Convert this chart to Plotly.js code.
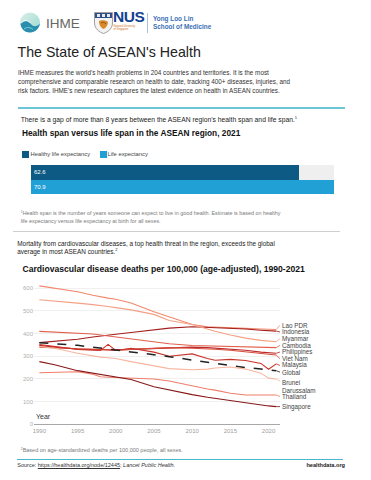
<!DOCTYPE html>
<html>
<head>
<meta charset="utf-8">
<script src="https://cdn.plot.ly/plotly-3.0.1.min.js"></script>
<style>
  html, body { margin:0; padding:0; background:#fff; }
  body { width:371px; height:480px; position:relative; overflow:hidden; font-family:"Liberation Sans", Arial, sans-serif; color:#333; }
  .abs { position:absolute; white-space:nowrap; }
  .rule { position:absolute; }
</style>
</head>
<body>
<!-- Logos -->
<svg class="abs" style="left:18px;top:10px" width="26" height="26" viewBox="0 0 26 26">
  <defs>
    <linearGradient id="g1" x1="0" y1="0" x2="1" y2="1">
      <stop offset="0" stop-color="#d6f0e8"/>
      <stop offset="1" stop-color="#9fd8d0"/>
    </linearGradient>
  </defs>
  <circle cx="12" cy="12.5" r="10" fill="url(#g1)"/>
  <path d="M2.5 14 C6 10, 10 10, 13 14 C15.5 17, 19 17, 22 13.5 C21 19, 17 22.5, 12 22.5 C7 22.5, 3.2 19, 2.5 14 Z" fill="#2a8fae"/>
  <path d="M3 13 C6.5 9.5, 10 10, 12.5 13.2" stroke="#fff" stroke-width="1" fill="none"/>
  <path d="M6 19 C9 16.5, 13 17.5, 15 19.5" stroke="#7ccfd0" stroke-width="1" fill="none"/>
</svg>
<div class="abs" style="left:46px;top:14.5px;font-size:13.5px;line-height:17px;color:#666;">IHME</div>

<svg class="abs" style="left:94px;top:12px" width="19" height="22" viewBox="0 0 19 22">
  <path d="M0.5 0.5 H18.5 V11 C18.5 17, 13 20.5, 9.5 21.5 C6 20.5, 0.5 17, 0.5 11 Z" fill="#f3f3f3" stroke="#8a8a8a" stroke-width="0.8"/>
  <rect x="1" y="1" width="17" height="5" fill="#2c4f8a"/>
  <rect x="3" y="2" width="3" height="3" fill="#e8e8e8"/>
  <rect x="8" y="2" width="3" height="3" fill="#e8e8e8"/>
  <rect x="13" y="2" width="3" height="3" fill="#e8e8e8"/>
  <path d="M5 9 C7 8, 12 8, 14 10 C14 13, 12 16, 9.5 17 C7 16, 5 13, 5 9 Z" fill="#d88a2a"/>
  <path d="M7 11 C8.5 10, 10.5 10, 12 12" stroke="#7a4a12" stroke-width="0.8" fill="none"/>
</svg>
<div class="abs" style="left:113px;top:10px;font-size:15.5px;line-height:14.5px;height:14.5px;font-weight:bold;color:#12418f;letter-spacing:-0.4px;">NUS</div>
<div class="abs" style="left:113.5px;top:26px;font-size:2.6px;line-height:2.9px;color:#d06a1a;">National University<br>of Singapore</div>
<div class="rule" style="left:147px;top:13px;width:0.8px;height:20px;background:#a9c1e0;"></div>
<div class="abs" style="left:153px;top:14.8px;font-size:6.4px;line-height:8.4px;font-weight:bold;color:#3a6fb5;">Yong Loo Lin<br>School of Medicine</div>

<!-- Title & intro -->
<div class="abs" style="left:17.5px;top:44px;font-size:14.2px;line-height:17px;color:#222;">The State of ASEAN's Health</div>
<div class="abs" style="left:18px;top:67.7px;font-size:6.35px;line-height:9.2px;color:#333;">IHME measures the world's health problems in 204 countries and territories. It is the most<br>comprehensive and comparable research on health to date, tracking 400+ diseases, injuries, and<br>risk factors. IHME's new research captures the latest evidence on health in ASEAN countries.</div>
<div class="rule" style="left:18px;top:107.4px;width:327px;height:1.3px;background:#6cc6d6;"></div>

<div class="abs" style="left:20.7px;top:114.5px;font-size:6.75px;line-height:9px;color:#222;">There is a gap of more than 8 years between the ASEAN region's health span and life span.<sup style="font-size:4px;vertical-align:3px;line-height:0">1</sup></div>
<div class="abs" style="left:22px;top:128.3px;font-size:8.3px;line-height:10px;font-weight:bold;color:#111;">Health span versus life span in the ASEAN region, 2021</div>

<!-- Bar legend -->
<div class="rule" style="left:21.5px;top:150.5px;width:7.5px;height:7px;background:#0d5a84;"></div>
<div class="abs" style="left:30.5px;top:150px;font-size:5.8px;line-height:8px;color:#444;">Healthy life expectancy</div>
<div class="rule" style="left:100px;top:150.5px;width:7px;height:7px;background:#21a0d6;"></div>
<div class="abs" style="left:107.5px;top:150px;font-size:5.8px;line-height:8px;color:#444;">Life expectancy</div>

<div id="bars" class="abs" style="left:0;top:165px;width:371px;height:28.5px;"></div>

<div class="abs" style="left:20.7px;top:208.7px;font-size:5.4px;line-height:8px;color:#7a7a7a;"><sup style="font-size:3.5px;vertical-align:2.5px;line-height:0">1</sup>Health span is the number of years someone can expect to live in good health. Estimate is based on healthy<br>life expectancy versus life expectancy at birth for all sexes.</div>
<div class="rule" style="left:12.7px;top:231.3px;width:327px;height:0.9px;background:#cfcfcf;"></div>

<div class="abs" style="left:17.3px;top:240px;font-size:6.4px;line-height:7.8px;color:#222;">Mortality from cardiovascular diseases, a top health threat in the region, exceeds the global<br>average in most ASEAN countries.<sup style="font-size:4px;vertical-align:3px;line-height:0">2</sup></div>
<div class="abs" style="left:22.5px;top:264.3px;font-size:8.6px;line-height:10px;font-weight:bold;color:#111;">Cardiovascular disease deaths per 100,000 (age-adjusted), 1990-2021</div>

<div id="lines" class="abs" style="left:0;top:275px;width:371px;height:165px;"></div>

<div class="abs" style="left:20.7px;top:447.2px;font-size:5.5px;line-height:7px;color:#7a7a7a;"><sup style="font-size:3.5px;vertical-align:2.5px;line-height:0">2</sup>Based on age-standardized deaths per 100,000 people, all sexes.</div>
<div class="rule" style="left:17px;top:458.5px;width:326px;height:1.2px;background:#45b8d0;"></div>
<div class="abs" style="left:17.3px;top:461.8px;font-size:5.5px;line-height:7px;color:#333;">Source: <span style="text-decoration:underline">https://healthdata.org/node/12445</span>; <i>Lancet Public Health</i>.</div>
<div class="abs" style="right:26px;top:461.8px;font-size:5.6px;line-height:7px;font-weight:bold;color:#222;">healthdata.org</div>

<script>
// ---------- Data ----------
const barCategories = ['Healthy life expectancy', 'Life expectancy'];
const barValues = [62.6, 70.9];

const years = [1990, 1992, 1995, 1997, 1998, 1999, 2000, 2002, 2005, 2007, 2010, 2012, 2013, 2015, 2017, 2019, 2020, 2021];
const laoPDR      = [611, 600, 585, 570, 562, 557, 552, 535, 497, 475, 440, 430, 428, 425, 423, 420, 419, 418];
const indonesia   = [360, 365, 375, 385, 390, 393, 397, 405, 416, 424, 430, 428, 427, 423, 420, 415, 413, 411];
const myanmar     = [550, 545, 535, 528, 525, 520, 515, 505, 485, 458, 440, 418, 410, 394, 380, 370, 366, 364];
const cambodia    = [410, 407, 404, 398, 394, 390, 386, 378, 364, 355, 347, 345, 344, 342, 341, 340, 339, 338];
const philippines = [348, 340, 332, 330, 329, 328, 327, 330, 333, 336, 340, 338, 336, 332, 326, 318, 315, 313];
const vietNam     = [340, 336, 333, 331, 330, 329, 328, 330, 335, 338, 335, 333, 331, 326, 318, 310, 307, 305];
const malaysia    = [352, 342, 330, 327, 325, 352, 325, 335, 318, 300, 310, 290, 282, 286, 281, 268, 242, 266];
const global      = [360, 356, 348, 340, 336, 332, 328, 320, 306, 298, 283, 273, 268, 258, 250, 243, 240, 236];
const brunei      = [343, 335, 313, 300, 296, 293, 290, 276, 258, 245, 240, 243, 248, 252, 243, 225, 203, 199];
const thailand    = [227, 229, 231, 220, 209, 207, 206, 203, 199, 190, 168, 155, 150, 136, 128, 127, 128, 128];
const singapore   = [276, 262, 236, 225, 218, 212, 209, 197, 165, 150, 130, 118, 113, 103, 94, 84, 80, 77];

const seriesNames = ['Lao PDR', 'Indonesia', 'Myanmar', 'Cambodia', 'Philippines', 'Viet Nam', 'Malaysia', 'Global', 'Brunei<br>Darussalam', 'Thailand', 'Singapore'];
const seriesValues = [laoPDR, indonesia, myanmar, cambodia, philippines, vietNam, malaysia, global, brunei, thailand, singapore];
const yTicks = [0, 100, 200, 300, 400, 500, 600];
const xTicks = [1990, 1995, 2000, 2005, 2010, 2015, 2020];

// ---------- Styles ----------
const seriesColors = ['#f2876b', '#a31d1d', '#f5a084', '#e0604c', '#bb2c28', '#d84a3c', '#c9342b', '#222222', '#f8b6a0', '#ef7e6a', '#861818'];

// ---------- Bar chart ----------
Plotly.newPlot('bars', [{
  type: 'bar', orientation: 'h',
  y: barCategories, x: barValues,
  marker: { color: ['#0d5a84', '#21a0d6'] },
  text: barValues.map(v => v.toFixed(1)),
  textposition: 'inside', insidetextanchor: 'start',
  textfont: { color: '#ffffff', size: 6, family: 'Liberation Sans, Arial' },
  hoverinfo: 'none', width: 1
}], {
  width: 371, height: 28.5,
  margin: { l: 31, r: 37, t: 0, b: 0, pad: 0, autoexpand: false },
  paper_bgcolor: 'rgba(0,0,0,0)', plot_bgcolor: '#efefef',
  bargap: 0, showlegend: false,
  xaxis: { range: [0, 70.9], visible: false, fixedrange: true },
  yaxis: { autorange: 'reversed', visible: false, fixedrange: true }
}, { staticPlot: true, displayModeBar: false });

// ---------- Line chart ----------
const xMin = 1989.3, xMax = 2021.5, yMin = 0, yMax = 615;
const plotH = 165 - 10 - 16; // px
const unitsPerPx = (yMax - yMin) / plotH;

const traces = seriesValues.map((vals, i) => ({
  type: 'scatter', mode: 'lines', x: years, y: vals,
  name: seriesNames[i].replace('<br>', ' '),
  line: { color: seriesColors[i], width: seriesNames[i] === 'Global' ? 1.5 : 1.1, dash: seriesNames[i] === 'Global' ? 'dash' : 'solid' },
  hoverinfo: 'none'
}));

// Label placement: relax overlapping end labels
const lastIdx = years.length - 1;
const items = seriesValues.map((vals, i) => ({ i, end: vals[lastIdx], pos: vals[lastIdx], n: seriesNames[i].split('<br>').length }));
items.sort((a, b) => b.end - a.end);
const lh = 6.7 * unitsPerPx;
for (let it = 0; it < 300; it++) {
  for (let k = 0; k < items.length - 1; k++) {
    const a = items[k], b = items[k + 1];
    const need = (a.n + b.n) / 2 * lh;
    const gap = a.pos - b.pos;
    if (gap < need) { const d = (need - gap) / 2; a.pos += d; b.pos -= d; }
  }
}
// small pixel nudges: multi-line labels hang from their position, the next label steps down a little
const yShifts = items.map((o, k) => {
  if (o.n > 1) return 4.5;
  if (k > 0 && items[k - 1].n > 1) return -1.5;
  return 0;
});

const annotations = items.map((o, k) => ({
  xref: 'paper', x: 1, xanchor: 'left', xshift: 1,
  yref: 'y', y: o.pos, yanchor: o.n > 1 ? 'top' : 'middle', yshift: yShifts[k],
  text: seriesNames[o.i], showarrow: false, align: 'left', borderpad: 0,
  font: { size: 6.3, color: '#444', family: 'Liberation Sans, Arial' }
}));
annotations.push({
  xref: 'paper', x: 0, xanchor: 'left', yref: 'paper', y: 0, yanchor: 'bottom', yshift: 2,
  text: 'Year', showarrow: false, font: { size: 7, color: '#333', family: 'Liberation Sans, Arial' }
});
const shapes = items.map((o, k) => ({
  type: 'line', xref: 'x', yref: 'y',
  x0: years[lastIdx], y0: o.end, x1: xMax,
  y1: o.pos + (o.n > 1 ? (yShifts[k] - 3.4) : yShifts[k]) * unitsPerPx,
  line: { color: seriesColors[o.i], width: 0.8 }
}));

Plotly.newPlot('lines', traces, {
  width: 371, height: 165,
  margin: { l: 34, r: 91, t: 10, b: 16, pad: 0, autoexpand: false },
  paper_bgcolor: 'rgba(0,0,0,0)', plot_bgcolor: 'rgba(0,0,0,0)',
  showlegend: false,
  font: { family: 'Liberation Sans, Arial', size: 6, color: '#999' },
  xaxis: {
    range: [xMin, xMax], tickvals: xTicks, showgrid: false, zeroline: false,
    showline: true, linecolor: '#a8a8a8', linewidth: 1.4, ticks: '', ticklen: 0,
    tickfont: { size: 6, color: '#a0a0a0' }, fixedrange: true
  },
  yaxis: {
    range: [yMin, yMax], tickvals: yTicks, showgrid: true, gridcolor: '#ececec', gridwidth: 0.8,
    zeroline: false, showline: false, ticks: '', tickfont: { size: 6, color: '#b0b0b0' }, fixedrange: true
  },
  annotations: annotations,
  shapes: shapes
}, { staticPlot: true, displayModeBar: false });
</script>
</body>
</html>
